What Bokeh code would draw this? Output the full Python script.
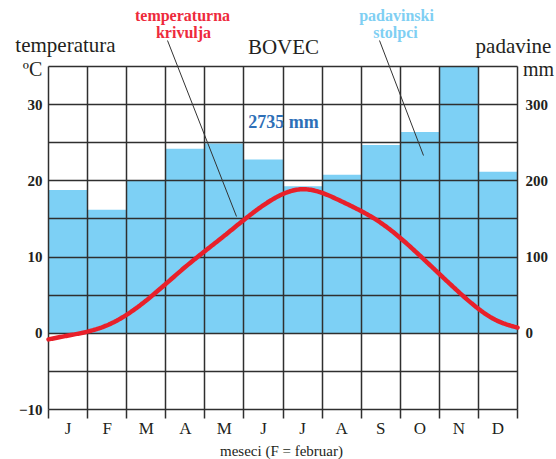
import numpy as np
from bokeh.plotting import figure
from bokeh.models import Range1d, LinearAxis, FixedTicker, Label, Arrow
from bokeh.embed import file_html
from bokeh.resources import INLINE

# ---------------- data ----------------
months = ["J", "F", "M", "A", "M", "J", "J", "A", "S", "O", "N", "D"]
precip_mm = [188, 162, 200, 242, 249, 228, 193, 208, 247, 264, 355, 212]
temp_c = [-0.3, 1.05, 4.3, 8.7, 12.8, 16.8, 18.9, 17.3, 14.5, 10.2, 5.4, 1.6]
temp_start = -0.8   # curve value at start of January
temp_end = 0.75     # curve value at end of December
temp_ticks = [-10, 0, 10, 20, 30]
precip_ticks = [0, 100, 200, 300]
temp_min, temp_max = -10, 35
total_label = "2735 mm"
station = "BOVEC"

# ---------------- layout (pixels) ----------------
W, H = 556, 459
CL, CR, CT, CB = 48, 517, 66, 409          # chart box on the canvas
sx = (CR - CL) / 12.0
sy = (CB - CT) / float(temp_max - temp_min)
def dx(px):
    return (px - CL) / sx
def dy(py):
    return temp_max - (py - CT) / sy

def natural_spline(xk, yk, xs):
    xk = np.asarray(xk, float); yk = np.asarray(yk, float)
    n = len(xk)
    h = np.diff(xk)
    A = np.zeros((n, n)); r = np.zeros(n)
    A[0, 0] = A[-1, -1] = 1.0
    for i in range(1, n - 1):
        A[i, i - 1] = h[i - 1]
        A[i, i] = 2 * (h[i - 1] + h[i])
        A[i, i + 1] = h[i]
        r[i] = 3 * ((yk[i + 1] - yk[i]) / h[i] - (yk[i] - yk[i - 1]) / h[i - 1])
    c = np.linalg.solve(A, r)
    b = (yk[1:] - yk[:-1]) / h - h * (2 * c[:-1] + c[1:]) / 3
    d = (c[1:] - c[:-1]) / (3 * h)
    idx = np.clip(np.searchsorted(xk, xs) - 1, 0, n - 2)
    t = xs - xk[idx]
    return yk[idx] + b[idx] * t + c[idx] * t ** 2 + d[idx] * t ** 3

centers = np.arange(len(months)) + 0.5
knots_x = np.concatenate([[0.0], centers, [12.0]])
knots_y = np.concatenate([[temp_start], temp_c, [temp_end]])
xs = np.linspace(0, 12, 400)
ys = natural_spline(knots_x, knots_y, xs)
# bars are cut at the top of the chart box
bar_tops = np.minimum(np.asarray(precip_mm, float), temp_max * 10)

FONT = "Liberation Serif"
DARK = "#231f20"
GRID = "#2f2f2f"
BAR = "#7dd0f5"
RED = "#e8202a"

p = figure(width=W, height=H, output_backend="svg", toolbar_location=None,
           x_range=Range1d(dx(0), dx(W)), y_range=Range1d(dy(H), dy(0)),
           min_border=0)
p.extra_y_ranges = {"precip": Range1d(dy(H) * 10, dy(0) * 10)}
p.background_fill_color = "white"
p.border_fill_color = "white"
p.outline_line_color = None

# bars
bars = p.vbar(x=centers, top=bar_tops, bottom=0, width=1.0, y_range_name="precip",
              fill_color=BAR, line_color=None)
bars.level = "underlay"

# grid
p.xgrid.ticker = FixedTicker(ticks=list(range(13)))
p.ygrid.ticker = FixedTicker(ticks=list(range(temp_min, temp_max + 1, 5)))
p.xgrid.bounds = (0, 12)
p.ygrid.bounds = (temp_min, temp_max)
p.xgrid.cross_bounds = (temp_min, temp_max)
p.ygrid.cross_bounds = (0, 12)
for g in (p.xgrid, p.ygrid):
    g.grid_line_color = GRID
    g.grid_line_width = 1.5
    g.grid_line_alpha = 1.0
    g.level = "underlay"

# temperature curve
p.line(xs, ys, line_color=RED, line_width=4.5, line_cap="round")

# left axis
ya = p.yaxis[0]
ya.fixed_location = 0
ya.bounds = (temp_min, temp_max)
ya.ticker = FixedTicker(ticks=temp_ticks)
ya.major_label_overrides = {-10: "\u221210"}
ya.axis_line_color = None
ya.major_tick_line_color = None
ya.minor_tick_line_color = None
ya.major_tick_out = 0
ya.major_label_standoff = 6
ya.major_label_text_font = FONT
ya.major_label_text_font_size = "15px"
ya.major_label_text_font_style = "bold"
ya.major_label_text_color = DARK

# right axis
ra = LinearAxis(y_range_name="precip", ticker=FixedTicker(ticks=precip_ticks),
                fixed_location=12, bounds=(temp_min * 10, temp_max * 10))
ra.axis_line_color = None
ra.major_tick_line_color = None
ra.minor_tick_line_color = None
ra.major_tick_out = 0
ra.major_label_standoff = 8
ra.major_label_text_font = FONT
ra.major_label_text_font_size = "15px"
ra.major_label_text_font_style = "bold"
ra.major_label_text_color = DARK
p.add_layout(ra, "right")

# bottom axis
xa = p.xaxis[0]
xa.fixed_location = temp_min
xa.bounds = (0, 12)
xa.ticker = FixedTicker(ticks=list(centers), minor_ticks=list(range(13)))
xa.major_label_overrides = {float(c): m for c, m in zip(centers, months)}
xa.axis_line_color = None
xa.major_tick_line_color = None
xa.major_tick_out = 0
xa.minor_tick_in = 0
xa.minor_tick_out = 9
xa.minor_tick_line_color = GRID
xa.minor_tick_line_width = 1.5
xa.major_label_standoff = 0
xa.major_label_text_font = FONT
xa.major_label_text_font_size = "17px"
xa.major_label_text_color = DARK

def lab(px, py, text, size, color=DARK, style="normal"):
    p.add_layout(Label(x=dx(px), y=dy(py), text=text, text_font=FONT, text_font_size=size,
                       text_font_style=style, text_color=color,
                       text_align="center", text_baseline="middle"))

lab(65, 44, "temperatura", "21px")
lab(32, 68, "\u00baC", "20px")
lab(283, 46, station, "21px")
lab(513, 45, "padavine", "21px")
lab(538, 68, "mm", "20px")
lab(182, 15, "temperaturna", "16px", color="#ee2a3c", style="bold")
lab(183, 32, "krivulja", "16px", color="#ee2a3c", style="bold")
lab(396, 15, "padavinski", "16px", color="#7fcff3", style="bold")
lab(395, 32, "stolpci", "16px", color="#7fcff3", style="bold")
lab(283, 121, total_label, "18px", color="#2e6fb7", style="bold")
lab(281, 450, "meseci (F = februar)", "15px")

p.add_layout(Arrow(end=None, x_start=dx(167), y_start=dy(40), x_end=dx(236), y_end=dy(216),
                   line_color="#333333", line_width=1))
p.add_layout(Arrow(end=None, x_start=dx(379), y_start=dy(40), x_end=dx(423), y_end=dy(155),
                   line_color="#333333", line_width=1))

open("out.html", "w").write(file_html(p, INLINE))
